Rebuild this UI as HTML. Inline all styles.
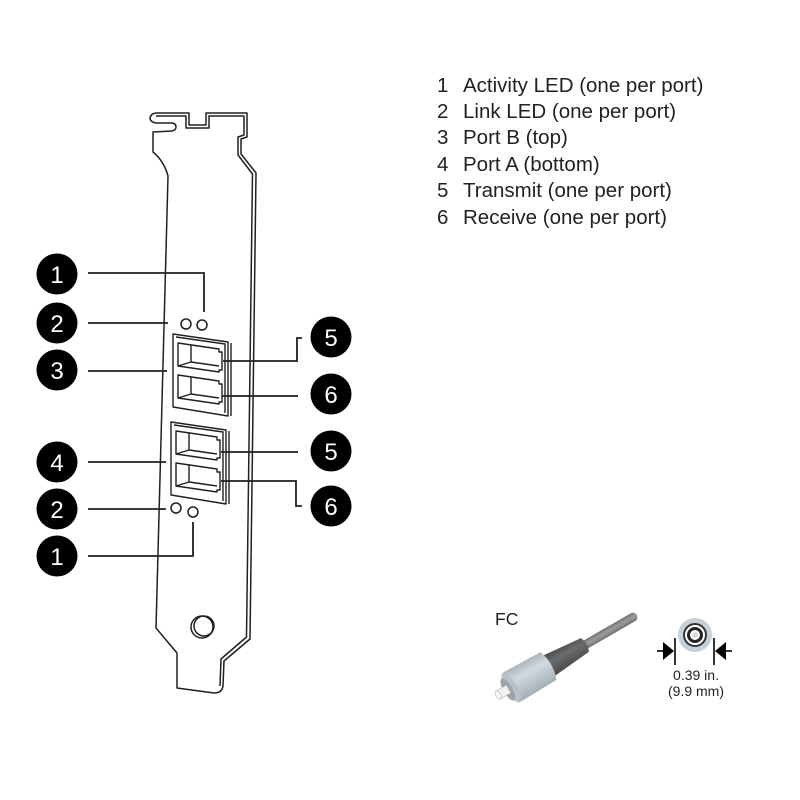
<!DOCTYPE html>
<html>
<head>
<meta charset="utf-8">
<style>
  html,body{margin:0;padding:0;background:#fff;}
  svg{display:block;}
  .t{font-family:"Liberation Sans",Arial,sans-serif;}
</style>
</head>
<body>
<svg width="800" height="800" viewBox="0 0 800 800" xmlns="http://www.w3.org/2000/svg">
  <rect width="800" height="800" fill="#fff"/>

  <!-- Bracket outline -->
  <g fill="none" stroke="#231f20" stroke-width="1.5" stroke-linejoin="round">
    <path d="M 157,113 L 189,113 L 189,125 L 206,125 L 206,113 L 247,113 L 247,137 L 241,139 L 241,154 L 256,173 L 250,639 L 224,661 L 223,686 Q 222,693 214,693 L 177,688 L 177,653 L 156,628 L 168,176 Q 164,161 153,152 L 153,132 L 172,131 Q 176,130 176,127 Q 176,123 171,123 L 156,123 Q 150,122 150,118 Q 151,113 157,113 Z"/>
    <path d="M 156,116 L 186,116 L 186,128 L 209,128 L 209,116 L 244,116 L 244,135 L 238,137 L 238,155 L 252.5,174 L 246.5,637 L 221,659 L 220,686"/>
    <circle cx="202" cy="627" r="11"/>
    <circle cx="204" cy="626" r="10"/>
    <circle cx="186" cy="324" r="5"/>
    <circle cx="202" cy="325" r="5"/>
    <circle cx="176" cy="508" r="5"/>
    <circle cx="193" cy="512" r="5"/>
  </g>

  <!-- Port housing (top) -->
  <g fill="#fff" stroke="#231f20" stroke-width="1.4" stroke-linejoin="round">
    <polygon points="173,334 228,342 228,416 173,407"/>
    <polyline fill="none" points="176,337 225,344 225,413"/>
    <line x1="231" y1="343" x2="231" y2="416"/>
    <polygon points="178,343 219,349 219,352 222,352 222,370 219,370 219,372 178,366"/>
    <line x1="191" y1="345" x2="191" y2="362"/>
    <line x1="191" y1="362" x2="219" y2="366"/>
    <line x1="178" y1="366" x2="191" y2="362"/>
    <polygon points="178,375 219,381 219,384 222,384 222,402 219,402 219,404 178,398"/>
    <line x1="191" y1="377" x2="191" y2="394"/>
    <line x1="191" y1="394" x2="219" y2="398"/>
    <line x1="178" y1="398" x2="191" y2="394"/>
  </g>
  <!-- Port housing (bottom) -->
  <g fill="#fff" stroke="#231f20" stroke-width="1.4" stroke-linejoin="round" transform="translate(-2,88)">
    <polygon points="173,334 228,342 228,416 173,407"/>
    <polyline fill="none" points="176,337 225,344 225,413"/>
    <line x1="231" y1="343" x2="231" y2="416"/>
    <polygon points="178,343 219,349 219,352 222,352 222,370 219,370 219,372 178,366"/>
    <line x1="191" y1="345" x2="191" y2="362"/>
    <line x1="191" y1="362" x2="219" y2="366"/>
    <line x1="178" y1="366" x2="191" y2="362"/>
    <polygon points="178,375 219,381 219,384 222,384 222,402 219,402 219,404 178,398"/>
    <line x1="191" y1="377" x2="191" y2="394"/>
    <line x1="191" y1="394" x2="219" y2="398"/>
    <line x1="178" y1="398" x2="191" y2="394"/>
  </g>

  <!-- Callout lines -->
  <g fill="none" stroke="#231f20" stroke-width="1.8">
    <polyline points="88,273 204,273 204,312"/>
    <line x1="88" y1="323" x2="168" y2="323"/>
    <line x1="88" y1="371" x2="167" y2="371"/>
    <line x1="88" y1="462" x2="166" y2="462"/>
    <line x1="88" y1="509" x2="166" y2="509"/>
    <polyline points="88,556 193,556 193,522"/>
    <polyline points="223,361 297,361 297,338 302,338"/>
    <line x1="222" y1="396" x2="298" y2="396"/>
    <line x1="221" y1="452" x2="298" y2="452"/>
    <polyline points="221,481 296,481 296,506 302,506"/>
  </g>

  <!-- Numbered circles -->
  <g class="t" font-size="24" fill="#fff" text-anchor="middle" font-weight="500">
    <circle cx="57" cy="274" r="20.5" fill="#000"/><text x="57" y="283">1</text>
    <circle cx="57" cy="323" r="20.5" fill="#000"/><text x="57" y="332">2</text>
    <circle cx="57" cy="370" r="20.5" fill="#000"/><text x="57" y="379">3</text>
    <circle cx="57" cy="462" r="20.5" fill="#000"/><text x="57" y="471">4</text>
    <circle cx="57" cy="509" r="20.5" fill="#000"/><text x="57" y="518">2</text>
    <circle cx="57" cy="556" r="20.5" fill="#000"/><text x="57" y="565">1</text>
    <circle cx="331" cy="337" r="20.5" fill="#000"/><text x="331" y="346">5</text>
    <circle cx="331" cy="394" r="20.5" fill="#000"/><text x="331" y="403">6</text>
    <circle cx="331" cy="451" r="20.5" fill="#000"/><text x="331" y="460">5</text>
    <circle cx="331" cy="506" r="20.5" fill="#000"/><text x="331" y="515">6</text>
  </g>

  <!-- Legend -->
  <g class="t" font-size="20.5" fill="#231f20">
    <text x="437" y="92">1</text><text x="463" y="92">Activity LED (one per port)</text>
    <text x="437" y="118">2</text><text x="463" y="118">Link LED (one per port)</text>
    <text x="437" y="144">3</text><text x="463" y="144">Port B (top)</text>
    <text x="437" y="171">4</text><text x="463" y="171">Port A (bottom)</text>
    <text x="437" y="197">5</text><text x="463" y="197">Transmit (one per port)</text>
    <text x="437" y="224">6</text><text x="463" y="224">Receive (one per port)</text>
  </g>

  <!-- FC connector -->
  <text class="t" x="495" y="625" font-size="17.5" fill="#231f20">FC</text>
  <defs>
    <linearGradient id="body" x1="0" y1="0" x2="0" y2="1">
      <stop offset="0" stop-color="#a9b4bb"/>
      <stop offset="0.35" stop-color="#d3dadf"/>
      <stop offset="1" stop-color="#a3aeb5"/>
    </linearGradient>
    <linearGradient id="boot" x1="0" y1="0" x2="0" y2="1">
      <stop offset="0" stop-color="#4a4b4d"/>
      <stop offset="0.4" stop-color="#6a6b6d"/>
      <stop offset="1" stop-color="#48494b"/>
    </linearGradient>
    <linearGradient id="cable" x1="0" y1="0" x2="0" y2="1">
      <stop offset="0" stop-color="#6f7173"/>
      <stop offset="0.45" stop-color="#9a9c9e"/>
      <stop offset="1" stop-color="#707274"/>
    </linearGradient>
  </defs>
  <g transform="translate(500,694) rotate(-30)">
    <rect x="94" y="-4.5" width="64" height="9" rx="4.5" fill="url(#cable)"/>
    <path d="M 54,-12 L 98,-8 Q 102,0 98,8 L 54,12 Z" fill="url(#boot)"/>
    <path d="M 13,-17 L 56,-16 Q 62,0 56,16 L 13,17 Z" fill="url(#body)"/>
    <ellipse cx="13" cy="0" rx="5.5" ry="17" fill="#b7c1c8"/>
    <ellipse cx="9" cy="0" rx="4.5" ry="12.5" fill="#9aa5ad"/>
    <rect x="-2" y="-4.5" width="12" height="9" fill="#f2f2f2" stroke="#b0b0b0" stroke-width="0.6"/>
    <ellipse cx="-2" cy="0" rx="2.5" ry="4.5" fill="#fafafa" stroke="#b0b0b0" stroke-width="0.6"/>
  </g>

  <!-- Dimension symbol -->
  <circle cx="695" cy="635" r="17" fill="#c6d0d6"/>
  <circle cx="695" cy="635" r="11" fill="#fff" stroke="#333" stroke-width="2"/>
  <circle cx="695" cy="635" r="6.5" fill="#fff" stroke="#222" stroke-width="3"/>
  <circle cx="695" cy="635" r="3" fill="#d8dde0"/>
  <g stroke="#000" stroke-width="1.6">
    <line x1="675" y1="638" x2="675" y2="665"/>
    <line x1="714" y1="638" x2="714" y2="665"/>
    <line x1="657" y1="651" x2="665" y2="651"/>
    <line x1="724" y1="651" x2="732" y2="651"/>
  </g>
  <polygon points="663,642 674,651 663,660" fill="#000"/>
  <polygon points="726,642 715,651 726,660" fill="#000"/>
  <g class="t" font-size="14" fill="#231f20" text-anchor="middle">
    <text x="696" y="680">0.39 in.</text>
    <text x="696" y="696">(9.9 mm)</text>
  </g>
</svg>
</body>
</html>
